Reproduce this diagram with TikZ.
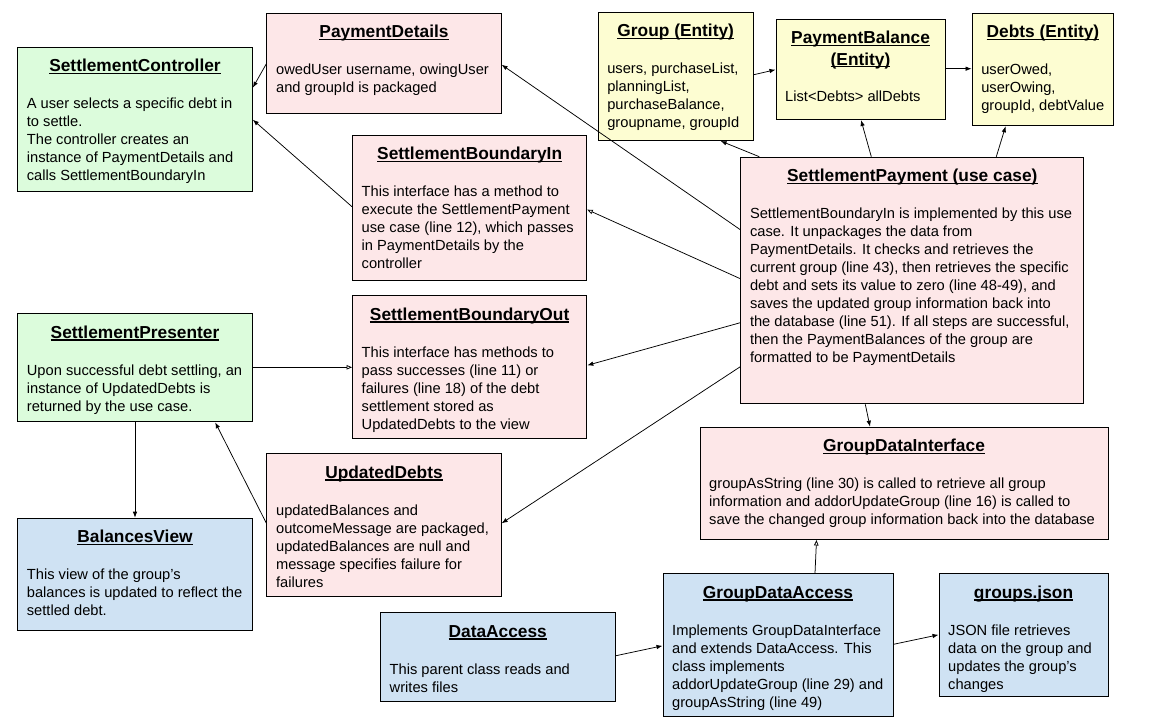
\documentclass[tikz,border=0pt]{standalone}
\usepackage{fontspec}
\setmainfont{Liberation Sans}
\usetikzlibrary{arrows.meta}
\definecolor{ctrlgreen}{HTML}{DCFCDC}
\definecolor{casepink}{HTML}{FDE7E8}
\definecolor{entyellow}{HTML}{FDFDD2}
\definecolor{viewblue}{HTML}{CFE2F3}
\newsavebox{\headbox}
\newcommand{\uhead}[1]{\sbox{\headbox}{#1}\rlap{\rule[-2.2pt]{\wd\headbox}{1.2pt}}\usebox{\headbox}}

\begin{document}
\begin{tikzpicture}[x=1pt, y=-1pt,
    box/.style={draw, line width=1pt, anchor=north west, inner sep=0pt},
    head/.style={anchor=base, inner sep=0pt, align=center, font=\fontsize{17.33pt}{21.5pt}\selectfont\bfseries},
    txt/.style={anchor=base west, inner sep=0pt, align=left, font=\fontsize{14.67pt}{18pt}\selectfont},
    dep/.style={-{Latex[length=6pt,width=4.5pt]}, line width=0.75pt},
    impl/.style={-{Triangle[open,length=5.5pt,width=4.5pt]}, line width=0.75pt}]
      \path[use as bounding box, fill=white] (0,0) rectangle (1154,720);

      \node[box, fill=ctrlgreen, minimum width=234.6pt, minimum height=144.6pt] (ctrl) at (17.2,46.7) {};
      \node[head] (ctrlh) at ([yshift=-25pt]ctrl.north) {\uhead{SettlementController}};
      \node[txt] (ctrlb) at ([shift={(9.5pt,-134pt)}]ctrl.north west) {A user selects a specific debt in\\to settle.\\The controller creates an\\instance of PaymentDetails and\\calls SettlementBoundaryIn};

      \node[box, fill=casepink, minimum width=234.2pt, minimum height=100.6pt] (pdet) at (266.4,12.7) {};
      \node[head] (pdeth) at ([yshift=-25pt]pdet.north) {\uhead{PaymentDetails}};
      \node[txt] (pdetb) at ([shift={(9.5pt,-80pt)}]pdet.north west) {owedUser username, owingUser\\and groupId is packaged};

      \node[box, fill=casepink, minimum width=234.3pt, minimum height=145.3pt] (bin) at (352,134.7) {};
      \node[head] (binh) at ([yshift=-25pt]bin.north) {\uhead{SettlementBoundaryIn}};
      \node[txt] (binb) at ([shift={(9.5pt,-134pt)}]bin.north west) {This interface has a method to\\execute the SettlementPayment\\use case (line 12), which passes\\in PaymentDetails by the\\controller};

      \node[box, fill=entyellow, minimum width=155.2pt, minimum height=128.3pt] (grp) at (597.6,11.7) {};
      \node[head] (grph) at ([yshift=-25pt]grp.north) {\uhead{Group (Entity)}};
      \node[txt] (grpb) at ([shift={(9.5pt,-116pt)}]grp.north west) {users, purchaseList,\\planningList,\\purchaseBalance,\\groupname, groupId};

      \node[box, fill=entyellow, minimum width=169.1pt, minimum height=100.3pt] (pbal) at (775.5,18.7) {};
      \node[head] (pbalh) at ([yshift=-46.5pt]pbal.north) {\uhead{PaymentBalance}\\\uhead{(Entity)}};
      \node[txt] (pbalb) at ([shift={(9.5pt,-83pt)}]pbal.north west) {List<Debts> allDebts};

      \node[box, fill=entyellow, minimum width=141.7pt, minimum height=112.6pt] (debts) at (971.6,12.7) {};
      \node[head] (debtsh) at ([yshift=-25pt]debts.north) {\uhead{Debts (Entity)}};
      \node[txt] (debtsb) at ([shift={(9.5pt,-98pt)}]debts.north west) {userOwed,\\userOwing,\\groupId, debtValue};

      \node[box, fill=casepink, minimum width=343pt, minimum height=246.6pt] (pay) at (740.3,156.7) {};
      \node[head] (payh) at ([yshift=-25pt]pay.north) {\uhead{SettlementPayment (use case)}};
      \node[txt] (payb) at ([shift={(9.5pt,-206pt)}]pay.north west) {SettlementBoundaryIn is implemented by this use\\case. It unpackages the data from\\PaymentDetails. It checks and retrieves the\\current group (line 43), then retrieves the specific\\debt and sets its value to zero (line 48-49), and\\saves the updated group information back into\\the database (line 51). If all steps are successful,\\then the PaymentBalances of the group are\\formatted to be PaymentDetails};

      \node[box, fill=ctrlgreen, minimum width=234.6pt, minimum height=108pt] (pres) at (17.2,313.3) {};
      \node[head] (presh) at ([yshift=-25pt]pres.north) {\uhead{SettlementPresenter}};
      \node[txt] (presb) at ([shift={(9.5pt,-98pt)}]pres.north west) {Upon successful debt settling, an\\instance of UpdatedDebts is\\returned by the use case.};

      \node[box, fill=casepink, minimum width=234.3pt, minimum height=142.7pt] (bout) at (352,295.3) {};
      \node[head] (bouth) at ([yshift=-25pt]bout.north) {\uhead{SettlementBoundaryOut}};
      \node[txt] (boutb) at ([shift={(9.5pt,-134pt)}]bout.north west) {This interface has methods to\\pass successes (line 11) or\\failures (line 18) of the debt\\settlement stored as\\UpdatedDebts to the view};

      \node[box, fill=casepink, minimum width=234.2pt, minimum height=142.7pt] (udebt) at (266.4,453.3) {};
      \node[head] (udebth) at ([yshift=-25pt]udebt.north) {\uhead{UpdatedDebts}};
      \node[txt] (udebtb) at ([shift={(9.5pt,-134pt)}]udebt.north west) {updatedBalances and\\outcomeMessage are packaged,\\updatedBalances are null and\\message specifies failure for\\failures};

      \node[box, fill=viewblue, minimum width=234.6pt, minimum height=112.3pt] (view) at (17.2,517.7) {};
      \node[head] (viewh) at ([yshift=-25pt]view.north) {\uhead{BalancesView}};
      \node[txt] (viewb) at ([shift={(9.5pt,-98pt)}]view.north west) {This view of the group’s\\balances is updated to reflect the\\settled debt.};

      \node[box, fill=casepink, minimum width=408pt, minimum height=112.3pt] (gdi) at (699.5,426.7) {};
      \node[head] (gdih) at ([yshift=-25pt]gdi.north) {\uhead{GroupDataInterface}};
      \node[txt] (gdib) at ([shift={(9.5pt,-98pt)}]gdi.north west) {groupAsString (line 30) is called to retrieve all group\\information and addorUpdateGroup (line 16) is called to\\save the changed group information back into the database};

      \node[box, fill=viewblue, minimum width=234.5pt, minimum height=88.7pt] (dacc) at (380,612.3) {};
      \node[head] (dacch) at ([yshift=-25pt]dacc.north) {\uhead{DataAccess}};
      \node[txt] (daccb) at ([shift={(9.5pt,-80pt)}]dacc.north west) {This parent class reads and\\writes files};

      \node[box, fill=viewblue, minimum width=230pt, minimum height=142.7pt] (gda) at (662.5,573.3) {};
      \node[head] (gdah) at ([yshift=-25pt]gda.north) {\uhead{GroupDataAccess}};
      \node[txt] (gdab) at ([shift={(9.5pt,-134pt)}]gda.north west) {Implements GroupDataInterface\\and extends DataAccess. This\\class implements\\addorUpdateGroup (line 29) and\\groupAsString (line 49)};

      \node[box, fill=viewblue, minimum width=169pt, minimum height=122.7pt] (json) at (938.5,573.3) {};
      \node[head] (jsonh) at ([yshift=-25pt]json.north) {\uhead{groups.json}};
      \node[txt] (jsonb) at ([shift={(9.5pt,-116pt)}]json.north west) {JSON file retrieves\\data on the group and\\updates the group’s\\changes};

      \path[dep]
        ([yshift=-51pt]pdet.north west) edge ([yshift=-41pt]ctrl.north east)
        ([yshift=-72pt]bin.north west) edge ([yshift=-73pt]ctrl.north east)
        ([yshift=-73pt]pay.north west) edge ([yshift=-52pt]pdet.north east)
        ([yshift=-166pt]pay.north west) edge ([yshift=-70pt]bout.north east)
        ([yshift=-210pt]pay.north west) edge ([yshift=-70pt]udebt.north east)
        ([xshift=19pt]pay.north west) edge ([xshift=123pt]grp.south west)
        ([xshift=131pt]pay.north west) edge ([xshift=85.5pt]pbal.south west)
        ([xshift=256pt]pay.north west) edge ([xshift=34pt]debts.south west)
        ([yshift=-63pt]grp.north east) edge ([yshift=-51pt]pbal.north west)
        ([yshift=-50pt]pbal.north east) edge ([yshift=-56pt]debts.north west)
        ([xshift=125pt]pay.south west) edge ([xshift=170.5pt]gdi.north west)
        ([yshift=-43.5pt]dacc.north east) edge ([yshift=-72.5pt]gda.north west)
        ([yshift=-71pt]gda.north east) edge ([yshift=-61.5pt]json.north west)
        (pres) edge (view)
        ([yshift=-70pt]udebt.north west) edge ([xshift=198pt]pres.south west);
      \path[impl]
        ([yshift=-122pt]pay.north west) edge ([yshift=-75pt]bin.north east)
        ([xshift=152.5pt]gda.north west) edge ([xshift=117pt]gdi.south west)
        ([yshift=-54pt]pres.north east) edge ([yshift=-72pt]bout.north west);
\end{tikzpicture}
\end{document}
